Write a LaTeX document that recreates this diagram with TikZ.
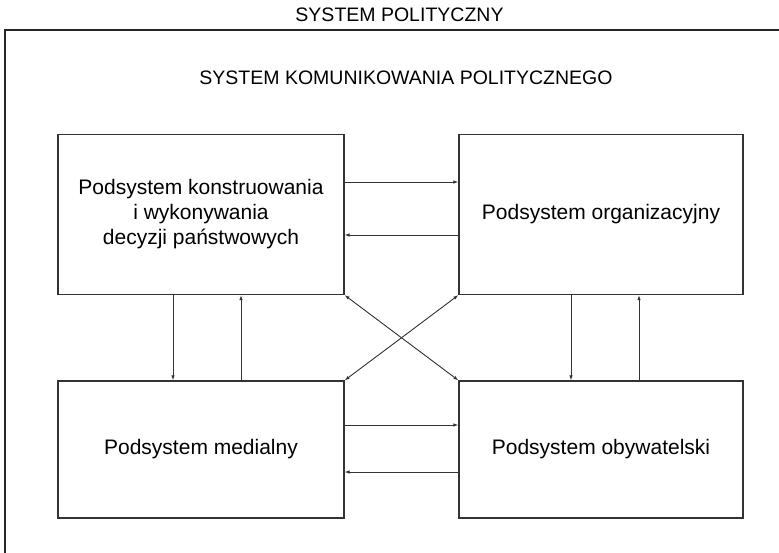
\documentclass[tikz,border=0pt]{standalone}
\usepackage{fontspec}
\setmainfont{Liberation Sans}
\usetikzlibrary{arrows.meta}

\tikzset{
  subsys/.style={draw=black!80,line width=1.2pt,align=center,font=\fontsize{21}{25}\selectfont,inner sep=0pt},
  headline/.style={font=\fontsize{19.5}{22}\selectfont},
  arr/.style={draw=black!80,line width=0.9pt,-{Latex[length=5pt,width=3.5pt]}},
  twoarr/.style={arr,{Latex[length=5pt,width=3.5pt]}-{Latex[length=5pt,width=3.5pt]}}
}

\begin{document}
\begin{tikzpicture}[x=1pt,y=-1pt]
    \useasboundingbox (0,0) rectangle (779,552);
    \clip (0,0) rectangle (779,552);
    % outer frame
    \draw[black!85,line width=1.2pt] (5,30) rectangle (800,580);
    \node[headline] (syspol) at (399.5,15) {SYSTEM POLITYCZNY};
    \node[headline] (syskom) at (406,78) {SYSTEM KOMUNIKOWANIA POLITYCZNEGO};

    % four subsystems
    \node[subsys,minimum width=286pt,minimum height=160pt] (decyzje) at (201,214.5)
      {Podsystem konstruowania\\i wykonywania\\decyzji pa\'nstwowych};
    \node[subsys,minimum width=284pt,minimum height=160pt] (organ) at (601,214.5)
      {Podsystem organizacyjny};
    \node[subsys,minimum width=286pt,minimum height=137pt] (media) at (201,449.5)
      {Podsystem medialny};
    \node[subsys,minimum width=284pt,minimum height=137pt] (obyw) at (601,449.5)
      {Podsystem obywatelski};

    % connectors
    \draw[arr] ([yshift=32.5pt]decyzje.east) -- ([yshift=32.5pt]organ.west);
    \draw[arr] ([yshift=-20.5pt]organ.west) -- ([yshift=-20.5pt]decyzje.east);
    \draw[arr] ([xshift=-28pt]decyzje.south) -- ([xshift=-28pt]media.north);
    \draw[arr] ([xshift=40pt]media.north) -- ([xshift=40pt]decyzje.south);
    \draw[arr] ([xshift=-30pt]organ.south) -- ([xshift=-30pt]obyw.north);
    \draw[arr] ([xshift=38pt]obyw.north) -- ([xshift=38pt]organ.south);
    \draw[arr] ([yshift=24.5pt]media.east) -- ([yshift=24.5pt]obyw.west);
    \draw[arr] ([yshift=-22.5pt]obyw.west) -- ([yshift=-22.5pt]media.east);
    \draw[twoarr] (decyzje.south east) -- (obyw.north west);
    \draw[twoarr] (organ.south west) -- (media.north east);
\end{tikzpicture}
\end{document}
